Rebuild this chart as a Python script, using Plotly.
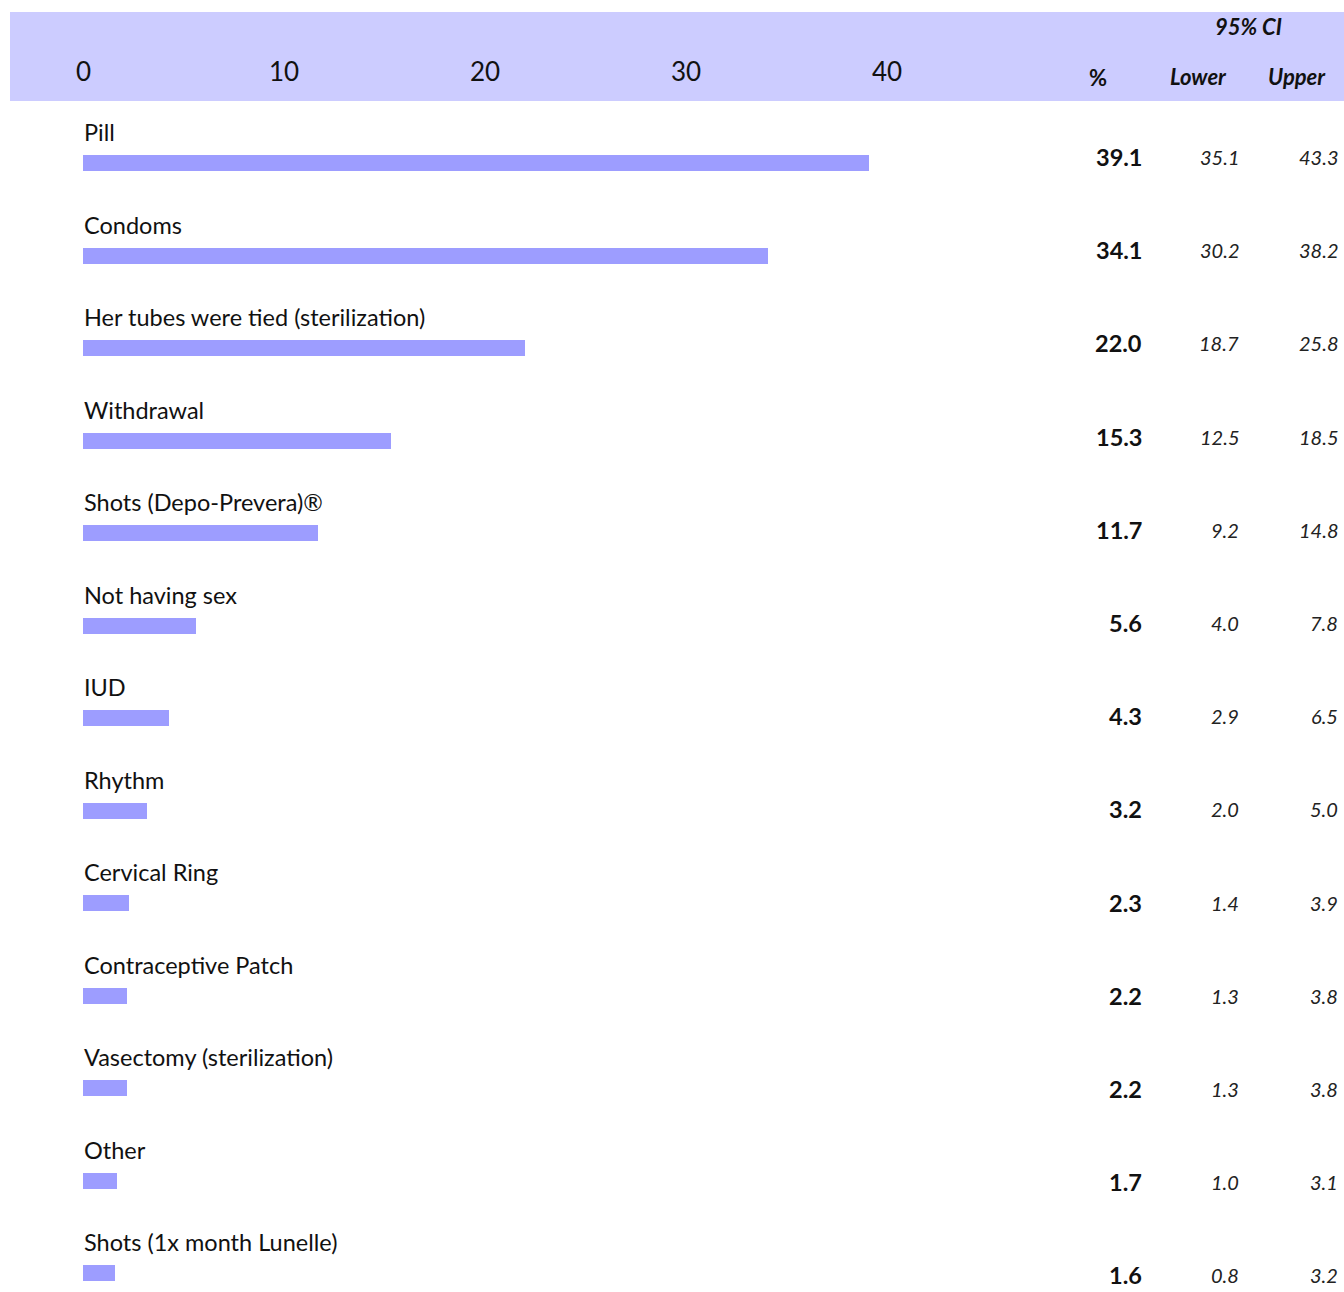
import plotly.graph_objects as go

# Contraceptive methods used, with percentage and 95% confidence interval
methods = [
    "Pill",
    "Condoms",
    "Her tubes were tied (sterilization)",
    "Withdrawal",
    "Shots (Depo-Prevera)®",
    "Not having sex",
    "IUD",
    "Rhythm",
    "Cervical Ring",
    "Contraceptive Patch",
    "Vasectomy (sterilization)",
    "Other",
    "Shots (1x month Lunelle)",
]
percent = [39.1, 34.1, 22.0, 15.3, 11.7, 5.6, 4.3, 3.2, 2.3, 2.2, 2.2, 1.7, 1.6]
ci_lower = [35.1, 30.2, 18.7, 12.5, 9.2, 4.0, 2.9, 2.0, 1.4, 1.3, 1.3, 1.0, 0.8]
ci_upper = [43.3, 38.2, 25.8, 18.5, 14.8, 7.8, 6.5, 5.0, 3.9, 3.8, 3.8, 3.1, 3.2]
tick_values = [0, 10, 20, 30, 40]

W, H = 1344, 1292
FONT = "Lato"
BAR = "#9D9DFF"
HEADER = "#CCCCFF"

rows = list(range(len(methods)))

fig = go.Figure()
fig.add_trace(go.Bar(
    x=percent, y=rows, orientation="h",
    width=0.173, marker=dict(color=BAR, line=dict(width=0)),
    hoverinfo="skip", showlegend=False,
))
# invisible trace to anchor the table axis
fig.add_trace(go.Scatter(x=[0], y=[0], yaxis="y2", mode="markers",
                         marker=dict(opacity=0), hoverinfo="skip", showlegend=False))

px = lambda p: p / W
py = lambda p: 1 - p / H

shapes = [dict(type="rect", xref="paper", yref="paper",
               x0=px(10), x1=1, y0=py(101), y1=py(12),
               fillcolor=HEADER, line=dict(width=0), layer="below")]

ann = []
for t in tick_values:
    ann.append(dict(x=t, xref="x", y=py(71), yref="paper", text=str(t),
                    showarrow=False, xanchor="center", yanchor="middle",
                    font=dict(family=FONT, size=26, color="#111")))

hdr_font = dict(family=FONT, size=22, color="#111")
ann.append(dict(x=px(1248), y=py(26), xref="paper", yref="paper", text="<b><i>95% CI</i></b>",
                showarrow=False, xanchor="center", yanchor="middle", font=hdr_font))
ann.append(dict(x=px(1098), y=py(77), xref="paper", yref="paper", text="<b>%</b>",
                showarrow=False, xanchor="center", yanchor="middle", font=hdr_font))
ann.append(dict(x=px(1198), y=py(76), xref="paper", yref="paper", text="<b><i>Lower</i></b>",
                showarrow=False, xanchor="center", yanchor="middle", font=hdr_font))
ann.append(dict(x=px(1297), y=py(76), xref="paper", yref="paper", text="<b><i>Upper</i></b>",
                showarrow=False, xanchor="center", yanchor="middle", font=hdr_font))

for i, name in enumerate(methods):
    ann.append(dict(x=0, xref="x", y=i, yref="y", text=name, showarrow=False,
                    xanchor="left", yanchor="middle", yshift=31, borderpad=0,
                    font=dict(family=FONT, size=23.5, color="#111")))
    ann.append(dict(x=px(1143), xref="paper", y=i, yref="y2", text=f"<b>{percent[i]:.1f}</b>",
                    showarrow=False, xanchor="right", yanchor="middle", borderpad=0,
                    font=dict(family=FONT, size=23.5, color="#111")))
    ann.append(dict(x=px(1240), xref="paper", y=i, yref="y2", text=f"<i>{ci_lower[i]:.1f}</i>",
                    showarrow=False, xanchor="right", yanchor="middle", borderpad=0,
                    font=dict(family=FONT, size=20, color="#222")))
    ann.append(dict(x=px(1339), xref="paper", y=i, yref="y2", text=f"<i>{ci_upper[i]:.1f}</i>",
                    showarrow=False, xanchor="right", yanchor="middle", borderpad=0,
                    font=dict(family=FONT, size=20, color="#222")))

x0_px, unit_px = 83, 20.1
fig.update_layout(
    width=W, height=H,
    margin=dict(l=0, r=0, t=0, b=0),
    paper_bgcolor="white", plot_bgcolor="white",
    xaxis=dict(range=[-x0_px / unit_px, (W - x0_px) / unit_px], domain=[0, 1],
               showgrid=False, zeroline=False, showticklabels=False, fixedrange=True),
    yaxis=dict(range=[(H - 163) / 92.5, -163 / 92.5], domain=[0, 1],
               showgrid=False, zeroline=False, showticklabels=False),
    yaxis2=dict(range=[(H - 157) / 93.2, -157 / 93.2], overlaying="y",
                showgrid=False, zeroline=False, showticklabels=False, visible=False),
    shapes=shapes, annotations=ann, bargap=0,
)

fig.write_html("out.html")
